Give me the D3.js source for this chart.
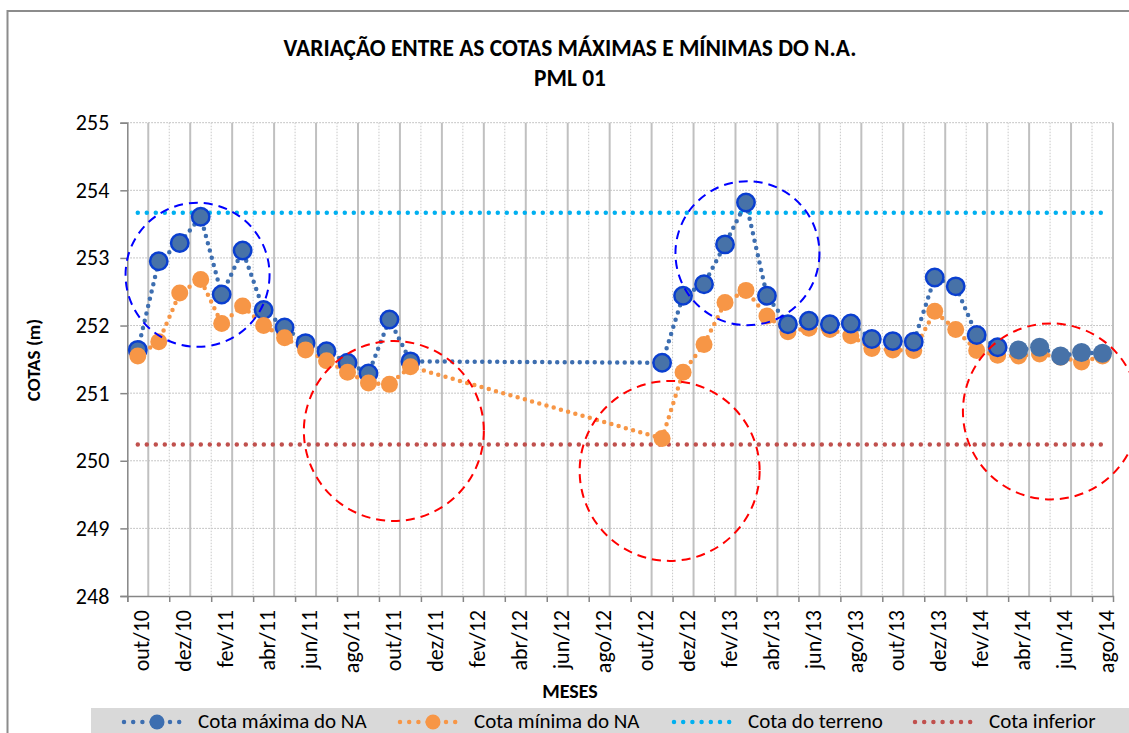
<!DOCTYPE html>
<html>
<head>
<meta charset="utf-8">
<script src="https://cdn.jsdelivr.net/npm/d3@7"></script>
<style>
  body { margin: 0; background: #fff; }
  text { font-family: Carlito, Lato, "Open Sans", sans-serif; fill: #000; }
</style>
</head>
<body>
<script>
// meses (out/10 .. set/14), um valor por mes
var meses = ["out/10","nov/10","dez/10","jan/11","fev/11","mar/11","abr/11","mai/11","jun/11","jul/11","ago/11","set/11",
             "out/11","nov/11","dez/11","jan/12","fev/12","mar/12","abr/12","mai/12","jun/12","jul/12","ago/12","set/12",
             "out/12","nov/12","dez/12","jan/13","fev/13","mar/13","abr/13","mai/13","jun/13","jul/13","ago/13","set/13",
             "out/13","nov/13","dez/13","jan/14","fev/14","mar/14","abr/14","mai/14","jun/14","jul/14","ago/14"]

var cotaMaxima = [251.64, 252.95, 253.22, 253.61, 252.46, 253.11, 252.23, 251.97, 251.74, 251.62, 251.45, 251.29, 252.09, 251.47,
                  null, null, null, null, null, null, null, null, null, null, null,
                  251.45, 252.44, 252.61, 253.20, 253.82, 252.44, 252.02, 252.07, 252.02, 252.03, 251.80, 251.77, 251.76,
                  252.71, 252.58, 251.86, 251.68, 251.64, 251.68, 251.55, 251.60, 251.59]

var cotaMinima = [251.55, 251.76, 252.48, 252.68, 252.03, 252.29, 252.00, 251.82, 251.64, 251.48, 251.31, 251.15, 251.13, 251.39,
                  null, null, null, null, null, null, null, null, null, null, null,
                  250.33, 251.31, 251.72, 252.34, 252.52, 252.14, 251.91, 251.96, 251.94, 251.85, 251.66, 251.64, 251.63,
                  252.21, 251.94, 251.63, 251.56, 251.55, 251.58, 251.53, 251.46, 251.55]

var cotaTerreno = 253.67
var cotaInferior = 250.24

var yTicks = [248, 249, 250, 251, 252, 253, 254, 255]

var legendas = ["Cota máxima do NA", "Cota mínima do NA", "Cota do terreno", "Cota inferior"]

// circulos de destaque (centro em mes/cota, raio em px)
var destaques = [
  {mes: 3.35, cota: 252.75, r: 72, cor: "#0000ff"},
  {mes: 29.57, cota: 253.07, r: 72, cor: "#0000ff"},
  {mes: 12.71, cota: 250.44, r: 90, cor: "#ff0000"},
  {mes: 25.86, cota: 249.85, r: 90, cor: "#ff0000"},
  {mes: 44.04, cota: 250.73, r: 88, cor: "#ff0000"}
]

var width = 1129, height = 733
var margin = {top: 122.7, left: 127.3, right: 1113, bottom: 596}

var svg = d3.select("body").append("svg")
  .attr("width", width).attr("height", height)

// moldura
svg.append("path")
  .attr("d", "M7.5,733 V11 H1129")
  .attr("fill", "none").attr("stroke", "#8c8c8c").attr("stroke-width", 2)

svg.append("text").attr("x", 8).attr("y", -3)
  .style("font-size", "20px").style("font-weight", "bold").text("Figura")

var x = d3.scaleLinear().domain([0, 47]).range([margin.left, margin.right])
var y = d3.scaleLinear().domain([248, 255]).range([margin.bottom, margin.top])

// grades
var grade = svg.append("g")
grade.selectAll(".gh").data(yTicks.slice(1)).enter().append("line")
  .attr("x1", margin.left).attr("x2", margin.right)
  .attr("y1", d => y(d)).attr("y2", d => y(d))
  .attr("stroke", "#b5b5b5").attr("stroke-width", 1).attr("stroke-dasharray", "1.5,1.5")

var idxMes = d3.range(1, 48)
grade.selectAll(".gv").data(idxMes).enter().append("line")
  .attr("x1", d => x(d)).attr("x2", d => x(d))
  .attr("y1", margin.top).attr("y2", margin.bottom)
  .attr("stroke", d => d % 2 ? "#c0c0c0" : "#c8c8c8")
  .attr("stroke-width", d => d % 2 ? 2 : 1)
  .attr("stroke-dasharray", d => d % 2 ? null : "1.5,1.5")

// eixo Y
var ejeY = d3.axisLeft(y).tickValues(yTicks).tickSize(7).tickFormat(d3.format("d"))
var gY = svg.append("g").attr("transform", "translate(" + margin.left + ",0)").call(ejeY)
gY.select(".domain").attr("stroke", "#868686").attr("stroke-width", 1.5)
gY.selectAll(".tick line").attr("stroke", "#868686").attr("stroke-width", 1.5)
gY.selectAll(".tick text").attr("x", -18).style("font-size", "22px").style("font-family", "Carlito, Lato, sans-serif")

// eixo X (rotulos a cada 2 meses)
var ejeX = d3.axisBottom(x).tickValues(d3.range(0, 47, 2)).tickSize(6).tickFormat("")
var gX = svg.append("g").attr("transform", "translate(0," + margin.bottom + ")").call(ejeX)
gX.select(".domain").attr("stroke", "#868686").attr("stroke-width", 1.5)
gX.selectAll(".tick line").attr("stroke", "#868686").attr("stroke-width", 1.5)

svg.append("g").selectAll("text").data(d3.range(0, 47, 2)).enter().append("text")
  .attr("transform", d => "translate(" + (x(d + 0.5) + 4) + "," + 610 + ") rotate(-90)")
  .attr("text-anchor", "end").attr("dy", "0.35em")
  .style("font-size", "22px")
  .text(d => meses[d])

// linhas de referencia
function linhaRef(valor, cor) {
  svg.append("line")
    .attr("x1", x(0.5)).attr("x2", x(46.5))
    .attr("y1", y(valor)).attr("y2", y(valor))
    .attr("stroke", cor).attr("stroke-width", 4.5)
    .attr("stroke-linecap", "round").attr("stroke-dasharray", "0,9")
}
linhaRef(cotaTerreno, "#00b0f0")
linhaRef(cotaInferior, "#c0504d")

// series
var pontosMax = cotaMaxima.map((v, i) => ({i: i, v: v})).filter(d => d.v != null)
var pontosMin = cotaMinima.map((v, i) => ({i: i, v: v})).filter(d => d.v != null)

var linha = d3.line().x(d => x(d.i + 0.5)).y(d => y(d.v))

svg.append("path").datum(pontosMax).attr("d", linha)
  .attr("fill", "none").attr("stroke", "#3d6eb0").attr("stroke-width", 4.5)
  .attr("stroke-linecap", "round").attr("stroke-dasharray", "0,7.5")

svg.append("path").datum(pontosMin).attr("d", linha)
  .attr("fill", "none").attr("stroke", "#f79646").attr("stroke-width", 4.5)
  .attr("stroke-linecap", "round").attr("stroke-dasharray", "0,7.5")

function marcadorMin(dados) {
  svg.append("g").selectAll("circle").data(dados).enter().append("circle")
    .attr("cx", d => x(d.i + 0.5)).attr("cy", d => y(d.v))
    .attr("r", 8.5).attr("fill", "#f79646")
}

// no 2o periodo o laranja fica atras do azul
marcadorMin(pontosMin.filter(d => d.i >= 25))

svg.append("g").selectAll("circle").data(pontosMax).enter().append("circle")
  .attr("cx", d => x(d.i + 0.5)).attr("cy", d => y(d.v))
  .attr("r", d => d.i <= 41 ? 8.7 : 9.5)
  .attr("fill", "#4772a8")
  .attr("stroke", d => d.i <= 41 ? "#0a3fd0" : "none")
  .attr("stroke-width", 2.5)

marcadorMin(pontosMin.filter(d => d.i < 25))

// destaques
svg.append("g").selectAll("circle").data(destaques).enter().append("circle")
  .attr("cx", d => x(d.mes)).attr("cy", d => y(d.cota)).attr("r", d => d.r)
  .attr("fill", "none").attr("stroke", d => d.cor).attr("stroke-width", 2)
  .attr("stroke-dasharray", "9,6")

// titulos
svg.append("text").attr("x", 570).attr("y", 56).attr("text-anchor", "middle")
  .style("font-size", "23.4px").style("font-weight", "bold")
  .text("VARIAÇÃO ENTRE AS COTAS MÁXIMAS E MÍNIMAS DO N.A.")
svg.append("text").attr("x", 570).attr("y", 86).attr("text-anchor", "middle")
  .style("font-size", "23.4px").style("font-weight", "bold")
  .text("PML 01")

svg.append("text").attr("transform", "translate(33,360) rotate(-90)").attr("text-anchor", "middle")
  .attr("dy", "0.35em").style("font-size", "19px").style("font-weight", "bold").text("COTAS (m)")

svg.append("text").attr("x", 570).attr("y", 698).attr("text-anchor", "middle")
  .style("font-size", "20px").style("font-weight", "bold").text("MESES")

// legenda
svg.append("rect").attr("x", 91).attr("y", 708).attr("width", 1040).attr("height", 30).attr("fill", "#d9d9d9")

var legX = [122, 398, 672, 913]
var legCor = ["#3d6eb0", "#f79646", "#00b0f0", "#c0504d"]
var leg = svg.append("g").selectAll("g").data(legendas).enter().append("g")
  .attr("transform", (d, i) => "translate(" + legX[i] + ",721)")
leg.append("line").attr("x1", 2).attr("x2", 66).attr("y1", 1).attr("y2", 1)
  .attr("stroke", (d, i) => legCor[i]).attr("stroke-width", 4.5)
  .attr("stroke-linecap", "round").attr("stroke-dasharray", "0,9.2")
leg.filter((d, i) => i < 2).append("circle").attr("cx", 35).attr("cy", 1).attr("r", 7.5)
  .attr("fill", (d, i) => legCor[i])
leg.append("text").attr("x", 76).attr("y", 7).style("font-size", "21px").text(d => d)
</script>
</body>
</html>
